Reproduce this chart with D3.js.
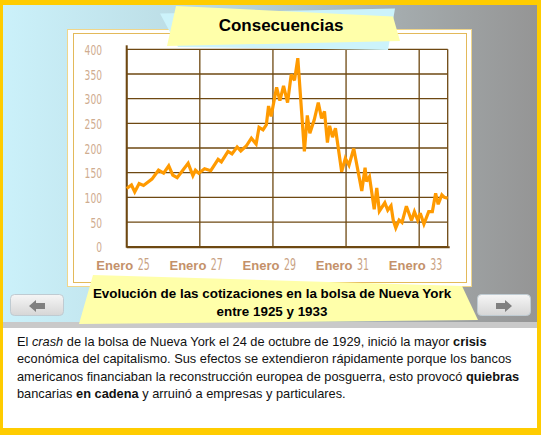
<!DOCTYPE html>
<html><head><meta charset="utf-8">
<script src="https://cdn.jsdelivr.net/npm/d3@7"></script>
<style>html,body{margin:0;padding:0;background:#ffcc00;} svg{display:block}</style>
</head><body>
<script>
// ---- data (decimal year, index value) ----
const years = [1925.00,1925.13,1925.22,1925.34,1925.46,1925.69,1925.87,1926.01,1926.15,1926.26,1926.38,1926.68,1926.81,1926.88,1926.97,
 1927.13,1927.30,1927.50,1927.59,1927.77,1927.88,1928.02,1928.12,1928.27,1928.41,1928.54,1928.62,1928.73,1928.82,1928.88,1928.95,
 1929.10,1929.19,1929.29,1929.40,1929.50,1929.59,1929.68,1929.86,1929.94,1930.01,1930.13,1930.24,1930.33,1930.41,1930.49,1930.55,1930.63,1930.71,
 1930.88,1930.98,1931.08,1931.21,1931.43,1931.52,1931.56,1931.64,1931.77,1931.84,1931.91,1932.06,1932.14,1932.23,1932.29,1932.36,1932.45,1932.53,
 1932.65,1932.79,1932.87,1932.96,1933.03,1933.13,1933.26,1933.36,1933.45,1933.52,1933.62,1933.69,1933.78];
const values = [118,125,111,128,124,137,155,149,164,145,140,169,144,155,149,
 158,154,177,172,193,188,202,194,204,220,208,242,237,247,285,264,
 323,296,326,292,349,337,382,193,266,230,257,292,260,274,211,245,222,240,
 152,179,165,199,113,160,132,142,76,119,72,89,74,83,54,38,54,49,
 82,53,71,54,68,46,71,71,108,86,105,100,98];
const yTicks = [0,50,100,150,200,250,300,350,400];
const xTickYears = [1925,1927,1929,1931,1933];
const xTickWord = "Enero";
const xTickNums = ["25","27","29","31","33"];
const titleText = "Consecuencias";
const captionLines = ["Evolución de las cotizaciones en la bolsa de Nueva York","entre 1925 y 1933"];
const bodyLines = [
  [["El ",""],["crash","i"],[" de la bolsa de Nueva York el 24 de octubre de 1929, inició la mayor ",""],["crisis","b"]],
  [["económica del capitalismo. Sus efectos se extendieron rápidamente porque los bancos",""]],
  [["americanos financiaban la reconstrucción europea de posguerra, esto provocó ",""],["quiebras","b"]],
  [["bancarias ",""],["en cadena","b"],[" y arruinó a empresas y particulares.",""]]
];

const W = 541, H = 435;
const svg = d3.select("body").append("svg").attr("width", W).attr("height", H);
const defs = svg.append("defs");
const bg = defs.append("linearGradient").attr("id","bgGrad").attr("x1","0").attr("x2","1").attr("y1","0").attr("y2","0");
bg.append("stop").attr("offset","0%").attr("stop-color","#cbf1fa");
bg.append("stop").attr("offset","40%").attr("stop-color","#b9d9e1");
bg.append("stop").attr("offset","75%").attr("stop-color","#a4abad");
bg.append("stop").attr("offset","100%").attr("stop-color","#959595");
const bt = defs.append("linearGradient").attr("id","btnGrad").attr("x1","0").attr("x2","0").attr("y1","0").attr("y2","1");
bt.append("stop").attr("offset","0%").attr("stop-color","#f6f6f6");
bt.append("stop").attr("offset","100%").attr("stop-color","#d6d6d6");

// frame
svg.append("rect").attr("x",0).attr("y",0).attr("width",W).attr("height",H).attr("fill","#ffcc00");
svg.append("rect").attr("x",3).attr("y",5).attr("width",534).attr("height",318).attr("fill","url(#bgGrad)");
svg.append("rect").attr("x",3).attr("y",322).attr("width",534).attr("height",6).attr("fill","#c9c9c9");
svg.append("rect").attr("x",3).attr("y",328).attr("width",534).attr("height",100).attr("fill","#ffffff");

// chart panel
svg.append("rect").attr("x",67.5).attr("y",29.5).attr("width",404).attr("height",257).attr("fill","#fff").attr("stroke","#f0d68a").attr("stroke-width",1);
svg.append("rect").attr("x",73.5).attr("y",33.5).attr("width",393).attr("height",249).attr("fill","none").attr("stroke","#e3b95a").attr("stroke-width",1);

// scales
const x = d3.scaleLinear().domain([1925, 1933.78]).range([126.7, 447.7]);
const y = d3.scaleLinear().domain([0, 400]).range([246.7, 49.3]);
const gridColor = "#6e4812";

const grid = svg.append("g");
grid.selectAll("line.h").data(yTicks).join("line")
  .attr("x1", x(1925)).attr("x2", x(1933.78))
  .attr("y1", d => y(d)).attr("y2", d => y(d))
  .attr("stroke", gridColor).attr("stroke-width", 1.3);
grid.selectAll("line.v").data(xTickYears.concat([1933.78])).join("line")
  .attr("x1", d => x(d)).attr("x2", d => x(d))
  .attr("y1", y(400)).attr("y2", y(0))
  .attr("stroke", gridColor).attr("stroke-width", 1.3);
// axes (thicker)
svg.append("line").attr("x1", x(1925)).attr("x2", x(1925)).attr("y1", y(400)-4).attr("y2", y(0)+1)
  .attr("stroke", gridColor).attr("stroke-width", 2);
svg.append("line").attr("x1", x(1925)).attr("x2", x(1933.78)+2).attr("y1", y(0)+0.5).attr("y2", y(0)+0.5)
  .attr("stroke", gridColor).attr("stroke-width", 2);

const narrow = "'Liberation Sans Narrow','DejaVu Sans Condensed','Liberation Sans',sans-serif";

// y tick labels (narrow digits)
const yAxis = d3.axisLeft(y).tickValues(yTicks).tickSize(0).tickPadding(0);
const ya = svg.append("g").attr("transform", "translate(102,0)").call(yAxis);
ya.select(".domain").remove();
ya.selectAll("text").attr("fill", "#cfac8f").attr("font-family", narrow)
  .attr("font-size", 14).attr("dy", "0.36em")
  .attr("textLength", d => String(d).length * 5.8).attr("lengthAdjust", "spacingAndGlyphs");

// x tick labels
const xl = svg.append("g");
xl.selectAll("g").data(xTickYears).join("g")
  .attr("transform", d => `translate(${x(d)},270)`)
  .each(function(d, i) {
    const g = d3.select(this);
    g.append("text").attr("x", 6.5).attr("text-anchor", "end")
      .attr("font-family", "'Liberation Sans',Arial,sans-serif").attr("font-weight", "bold").attr("font-size", 13)
      .attr("fill", "#c4916a").text(xTickWord);
    g.append("text").attr("x", 11).attr("text-anchor", "start")
      .attr("font-family", narrow).attr("font-size", 15).attr("fill", "#c9a283")
      .attr("textLength", 12).attr("lengthAdjust", "spacingAndGlyphs").text(xTickNums[i]);
  });

// line
const line = d3.line().x((d, i) => x(years[i])).y(d => y(d));
svg.append("path").datum(values).attr("d", line).attr("fill", "none")
  .attr("stroke", "#ff9a00").attr("stroke-width", 3.2).attr("stroke-linejoin", "miter").attr("stroke-miterlimit", 3);

// title tab
svg.append("polygon").attr("points", "160,13.5 395,8.5 388,50 178,47").attr("fill", "#ccf3fb");
svg.append("polygon").attr("points", "176,6 393,16.5 400,41 167,46").attr("fill", "#ffffaa");
svg.append("text").attr("x", 281).attr("y", 31).attr("text-anchor", "middle")
  .attr("font-family", "'Liberation Sans',Arial,sans-serif").attr("font-weight", "bold").attr("font-size", 17)
  .attr("fill", "#000").text(titleText);

// caption
svg.append("polygon").attr("points", "93,275 462,286 478,320 79,324").attr("fill", "#ffffaa");
svg.append("g").selectAll("text").data(captionLines).join("text")
  .attr("x", 272).attr("y", (d, i) => 298 + i * 17.5).attr("text-anchor", "middle")
  .attr("font-family", "'Liberation Sans',Arial,sans-serif").attr("font-weight", "bold").attr("font-size", 13.4)
  .attr("fill", "#000").text(d => d);

// buttons
function button(x0, dir) {
  const g = svg.append("g");
  g.append("rect").attr("x", x0 + 0.5).attr("y", 294.5).attr("width", 53).attr("height", 21).attr("rx", 4)
    .attr("fill", "url(#btnGrad)").attr("stroke", "#bfcbd2");
  const cx = x0 + 27, cy = 306;
  const s = dir;
  const pts = [[cx - 8*s, cy], [cx - 1*s, cy - 6], [cx - 1*s, cy - 3], [cx + 8*s, cy - 3], [cx + 8*s, cy + 3], [cx - 1*s, cy + 3], [cx - 1*s, cy + 6]];
  g.append("polygon").attr("points", pts.map(p => p.join(",")).join(" ")).attr("fill", "#808080");
}
button(10, 1);
button(477, -1);

// body text
const bt2 = svg.append("g").attr("font-family", "'Liberation Sans',Arial,sans-serif").attr("font-size", 12.8).attr("fill", "#111");
bodyLines.forEach((parts, i) => {
  const t = bt2.append("text").attr("x", 17).attr("y", 345.5 + i * 17.5);
  parts.forEach(([s, st]) => {
    const ts = t.append("tspan").text(s);
    if (st === "b") ts.attr("font-weight", "bold");
    if (st === "i") ts.attr("font-style", "italic");
  });
});
</script>
</body></html>
